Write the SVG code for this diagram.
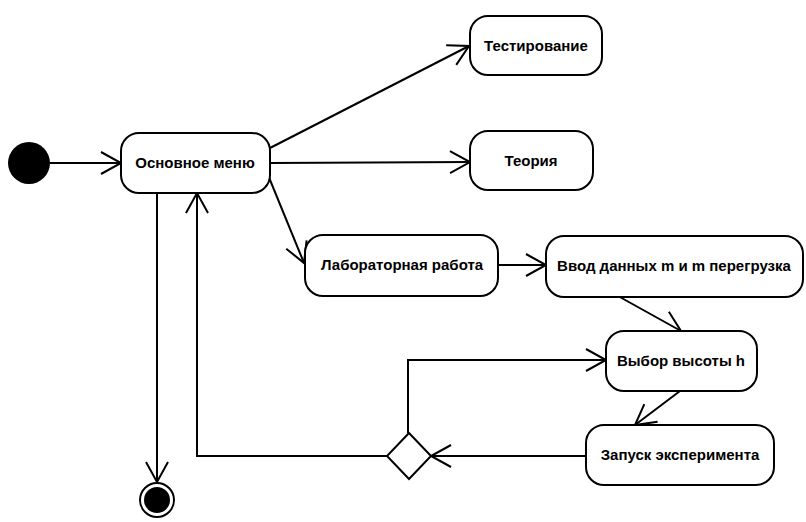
<svg xmlns="http://www.w3.org/2000/svg" width="806" height="522" viewBox="0 0 806 522">
<defs>
<marker id="arr" markerUnits="userSpaceOnUse" markerWidth="30" markerHeight="30" refX="22" refY="12" orient="auto" overflow="visible">
<path d="M2,1 L22,12 L2,23" fill="none" stroke="#000" stroke-width="2"/>
</marker>
</defs>
<style>
.box{fill:#fff;stroke:#000;stroke-width:2}
.lbl{font-family:"Liberation Sans",Arial,sans-serif;font-weight:bold;font-size:15px;text-anchor:middle;fill:#000}
.c{fill:none;stroke:#000;stroke-width:2}
</style>
<g id="connectors">
<line class="c" x1="50" y1="163" x2="121" y2="163" marker-end="url(#arr)"/>
<line class="c" x1="270" y1="148" x2="469" y2="46" marker-end="url(#arr)"/>
<line class="c" x1="271" y1="163" x2="470" y2="162" marker-end="url(#arr)"/>
<line class="c" x1="268" y1="175" x2="304" y2="263" marker-end="url(#arr)"/>
<line class="c" x1="498" y1="265" x2="546" y2="265" marker-end="url(#arr)"/>
<line class="c" x1="618" y1="296" x2="681" y2="331" marker-end="url(#arr)"/>
<line class="c" x1="680" y1="391" x2="635" y2="425" marker-end="url(#arr)"/>
<line class="c" x1="586" y1="456" x2="431" y2="456" marker-end="url(#arr)"/>
<polyline class="c" points="408,433 408,360 606,360" marker-end="url(#arr)"/>
<polyline class="c" points="387,456 197,456 197,193" marker-end="url(#arr)"/>
<line class="c" x1="157" y1="193" x2="157" y2="482" marker-end="url(#arr)"/>
</g>
<g id="start"><circle cx="29" cy="163" r="21" fill="#000"/></g>
<g id="menu"><rect class="box" x="121" y="133" width="149" height="60" rx="18"/><text class="lbl" x="195" y="168">Основное меню</text></g>
<g id="test"><rect class="box" x="470" y="16" width="132" height="59" rx="18"/><text class="lbl" x="536" y="51">Тестирование</text></g>
<g id="theory"><rect class="box" x="470" y="131" width="123" height="59" rx="18"/><text class="lbl" x="531" y="166">Теория</text></g>
<g id="lab"><rect class="box" x="305" y="235" width="193" height="61" rx="18"/><text class="lbl" x="402" y="270">Лабораторная работа</text></g>
<g id="input"><rect class="box" x="546" y="236" width="257" height="61" rx="18"/><text class="lbl" x="674" y="271">Ввод данных m и m перегрузка</text></g>
<g id="height"><rect class="box" x="606" y="331" width="151" height="60" rx="18"/><text class="lbl" x="681" y="366">Выбор высоты h</text></g>
<g id="run"><rect class="box" x="586" y="425" width="188" height="60" rx="18"/><text class="lbl" x="680" y="460">Запуск эксперимента</text></g>
<g id="decision"><polygon class="box" points="409,433 431,456 409,479 387,456"/></g>
<g id="end"><circle cx="157" cy="500" r="17" fill="#fff" stroke="#000" stroke-width="2"/><circle cx="157" cy="500" r="13" fill="#000"/></g>
</svg>
